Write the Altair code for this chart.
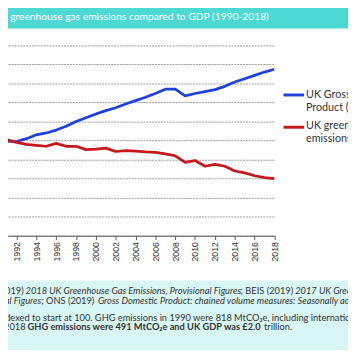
import altair as alt
import pandas as pd

# ---------------- data ----------------
years = list(range(1990, 2019))
gdp = [100, 99, 99, 102, 106, 108, 111, 115, 120, 124, 128, 131.5, 134.5, 138.5, 142,
       145.5, 149.5, 154, 154, 147, 149.5, 151.5, 153.5, 157, 161.5, 165, 168.5, 172, 175]
ghg = [100, 101, 98, 96, 95, 94, 97, 94, 94, 90.5, 91, 92, 88.5, 89.5, 89, 88, 87.5,
       86, 84, 77, 79, 73, 75, 73, 68, 66, 63, 61, 60]
series_names = ["UK Gross Domestic Product (GDP)", "UK greenhouse gas emissions"]
series_colors = ["#1f3fe0", "#c8161d"]
x_ticks = list(range(1992, 2019, 2))
y_grid = list(range(0, 201, 20))

title_text = "UK greenhouse gas emissions compared to GDP (1990-2018)"
legend_gdp = ["UK Gross Domestic", "Product (GDP)"]
legend_ghg = ["UK greenhouse gas", "emissions"]

src1 = ["Source: BEIS (2019)", "2018 UK Greenhouse Gas Emissions, Provisional Figures",
        "; BEIS (2019)", "2017 UK Greenhouse Gas Emissions, Final Figures"]
src2 = ["Final Figures", "; ONS (2019)",
        "Gross Domestic Product: chained volume measures: Seasonally adjusted £m"]
note1 = "indexed to start at 100. GHG emissions in 1990 were 818 MtCO₂e, including international aviation and shipping."
note2 = ["In 2018", "GHG emissions were 491 MtCO₂e and UK GDP was £2.0", "trillion."]

df = pd.DataFrame({
    "year": years * 2,
    "value": gdp + ghg,
    "series": [series_names[0]] * len(years) + [series_names[1]] * len(years),
})

# ---------------- layout helpers (page coords -> plot coords) ----------------
OX, OY = 8, 42.3
W, H = 272.7, 194.7
SVG_W, SVG_H = 348, 342
TOP = OY - 8


def px(x):
    return x - OX


def py(y):
    return y - OY


one = pd.DataFrame({"k": [0]})


def rect(x1, y1, x2, y2, color):
    return alt.Chart(one).mark_rect(color=color).encode(
        x=alt.value(px(x1)), x2=alt.value(px(x2)),
        y=alt.value(py(y1)), y2=alt.value(py(y2)))


def rule(x1, x2, y, color, w=3):
    return alt.Chart(one).mark_rule(color=color, strokeWidth=w).encode(
        x=alt.value(px(x1)), x2=alt.value(px(x2)), y=alt.value(py(y)))


def txt(text, x, y, size=9.5, color="#333333", align="left", style="normal",
        weight="normal", font="Lato"):
    return alt.Chart(pd.DataFrame({"t": [text]})).mark_text(
        align=align, baseline="middle", fontSize=size, font=font,
        fontStyle=style, fontWeight=weight, color=color).encode(
        x=alt.value(px(x)), y=alt.value(py(y)), text="t:N")


lines = alt.Chart(df).mark_line(strokeWidth=2.8, clip=True, strokeJoin="round").encode(
    x=alt.X("year:Q",
            scale=alt.Scale(domain=[1991.14, 2018], nice=False, zero=False),
            axis=alt.Axis(values=x_ticks, format="d", labelAngle=-90, grid=False,
                          title=None, labelFlush=False, labelOverlap=False,
                          labelPadding=2, tickSize=4)),
    y=alt.Y("value:Q", scale=alt.Scale(domain=[0, 200], nice=False),
            axis=alt.Axis(values=y_grid, labels=False, ticks=False, domain=False,
                          grid=True, title=None)),
    color=alt.Color("series:N", scale=alt.Scale(domain=series_names, range=series_colors),
                    legend=None),
)

layers = [
    rect(0, 0, 356, 25, "#4dd9d3"),
    txt(title_text, 275, 13, size=10.5, color="white", align="right"),
    rect(0, 283, 356, 362, "#d8f6f3"),
    lines,
    rule(290, 311, 93, series_colors[0]),
    txt(legend_gdp[0], 313, 93, size=11),
    txt(legend_gdp[1], 313, 106, size=11),
    rule(290, 311, 126, series_colors[1]),
    txt(legend_ghg[0], 313, 125, size=11),
    txt(legend_ghg[1], 313, 138, size=11),
    # footer line 1
    txt(src1[0], 24, 294, align="right"),
    txt(src1[1], 26, 294, style="italic"),
    txt(src1[2], 246, 294),
    txt(src1[3], 302, 294, style="italic"),
    # footer line 2
    txt(src2[0], 42, 304, style="italic", align="right"),
    txt(src2[1], 42, 304),
    txt(src2[2], 100, 304, style="italic"),
    # footer line 3, 4
    txt(note1, -2.5, 321),
    txt(note2[0], 26, 331, align="right"),
    txt(note2[1], 28, 331, weight="bold"),
    txt(note2[2], 270, 331),
]

chart = alt.layer(*layers).properties(
    width=W, height=H,
    autosize=alt.AutoSizeParams(type="none"),
    padding={"left": 0, "top": TOP, "right": SVG_W - W, "bottom": SVG_H - TOP - H},
    background="white",
).configure_view(stroke=None).configure_axis(
    labelFont="Liberation Sans", labelFontSize=9, labelColor="#333333",
    tickColor="#555555", domainColor="#555555",
    gridColor="#9a9a9a", gridDash=[2, 1], gridWidth=1,
)

chart.save("out.html", embed_options={"renderer": "svg", "actions": False})
